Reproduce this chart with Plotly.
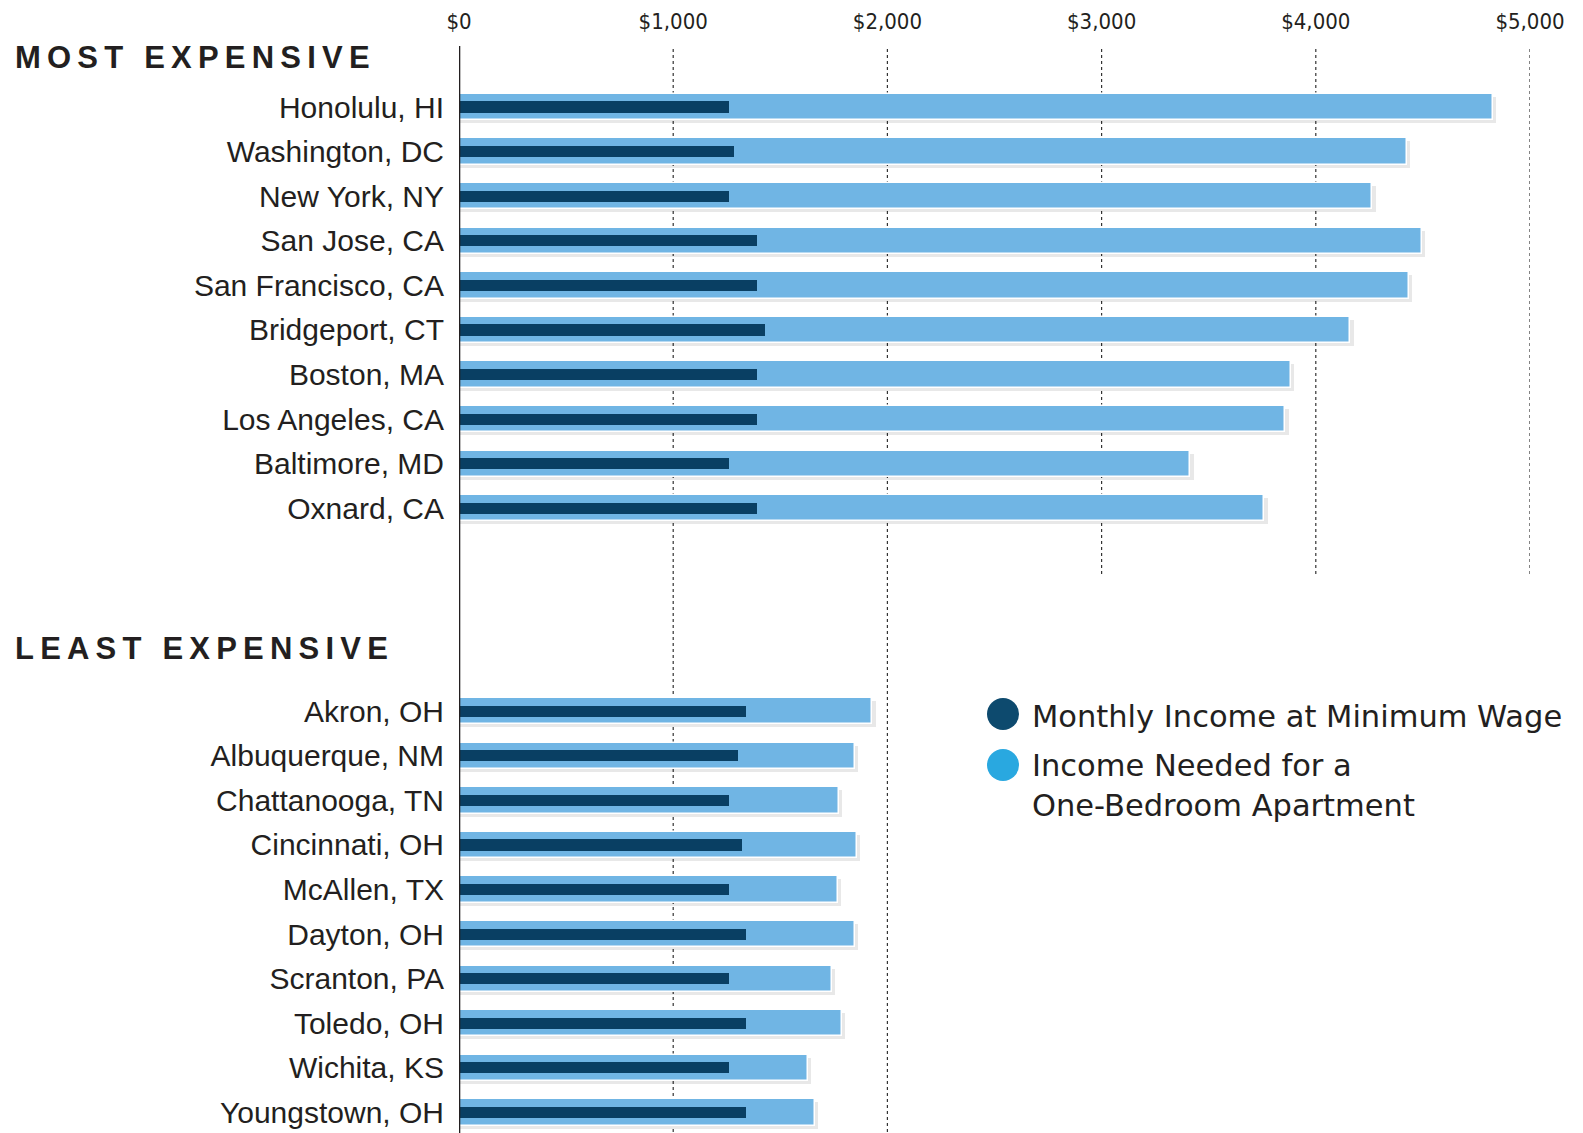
import plotly.graph_objects as go

# ---------------- data ----------------
most_cities = ["Honolulu, HI", "Washington, DC", "New York, NY", "San Jose, CA",
               "San Francisco, CA", "Bridgeport, CT", "Boston, MA", "Los Angeles, CA",
               "Baltimore, MD", "Oxnard, CA"]
most_needed = [4825, 4425, 4264, 4495, 4434, 4160, 3882, 3858, 3415, 3759]
most_minwage = [1259, 1283, 1259, 1392, 1392, 1429, 1392, 1392, 1259, 1392]

least_cities = ["Akron, OH", "Albuquerque, NM", "Chattanooga, TN", "Cincinnati, OH",
                "McAllen, TX", "Dayton, OH", "Scranton, PA", "Toledo, OH",
                "Wichita, KS", "Youngstown, OH"]
least_needed = [1929, 1849, 1774, 1858, 1769, 1849, 1741, 1788, 1627, 1660]
least_minwage = [1340, 1302, 1259, 1321, 1259, 1340, 1259, 1340, 1259, 1340]

x_ticks = [0, 1000, 2000, 3000, 4000, 5000]
x_ticktext = ["$0", "$1,000", "$2,000", "$3,000", "$4,000", "$5,000"]

legend_labels = ["Monthly Income at Minimum Wage",
                 "Income Needed for a<br>One-Bedroom Apartment"]

# ---------------- layout constants ----------------
OFF = 8                          # page body margin
W, H = 1583 - OFF, 1133 - OFF
L, T, B = 459 - OFF, 46 - OFF, 0
R = W - (1530 - OFF)
PW, PH = W - L - R, H - T - B
GAP = 4.55                       # vertical gap (in rows) between the two groups
ROW_PX = 44.59

cities = most_cities + least_cities
needed = most_needed + least_needed
minwage = most_minwage + least_minwage
ypos = list(range(len(most_cities))) + [len(most_cities) - 1 + GAP + i for i in range(len(least_cities))]

y_top = -(107 - 46) / ROW_PX
y_bot = ypos[-1] + (1133 - 1112.5) / ROW_PX

TEXT = "#231F20"
LIGHT = "#70B5E4"
DARK = "#093F63"
SANS = "Liberation Sans, Arial, sans-serif"
WIDE = "DejaVu Sans, Verdana, sans-serif"
COND = "DejaVu Sans Condensed, Liberation Sans Narrow, Arial Narrow, sans-serif"


def px_x(p):
    return (p - OFF - L) / PW


def px_y(p):
    return 1 - (p - OFF - T) / PH


fig = go.Figure()

light_w = 0.59
dark_w = 0.25
sh = 3.0 / ROW_PX
# soft shadow
fig.add_trace(go.Bar(
    y=ypos, x=[v + 16 for v in needed], orientation="h",
    width=light_w, offset=-light_w / 2 + sh,
    marker=dict(color="rgba(0,0,0,0.09)", line=dict(width=0)),
    hoverinfo="skip", showlegend=False))
fig.add_trace(go.Bar(
    y=ypos, x=needed, orientation="h", width=light_w, offset=-light_w / 2,
    marker=dict(color=LIGHT, line=dict(color="white", width=1.5)),
    name="Income Needed for a One-Bedroom Apartment", showlegend=False))
fig.add_trace(go.Bar(
    y=ypos, x=minwage, orientation="h", width=dark_w, offset=-dark_w / 2,
    marker=dict(color=DARK, line=dict(width=0)),
    name="Monthly Income at Minimum Wage", showlegend=False))

shapes = []
grid_end_most = len(most_cities) - 1 + 1.5
for v in x_ticks[1:]:
    y1 = y_bot if v <= 2000 else grid_end_most
    shapes.append(dict(type="line", xref="x", yref="y", x0=v, x1=v,
                       y0=y_top - 9 / ROW_PX, y1=y1,
                       line=dict(color="#333333", width=1.2, dash="dot"), layer="below"))
# zero axis line
shapes.append(dict(type="line", xref="x", yref="y", x0=0, x1=0, y0=y_top, y1=y_bot,
                   line=dict(color=TEXT, width=2.6), layer="above"))

# legend circles
for cy, col in [(714, "#0D4A6E"), (765, "#29A8E0")]:
    r = 16
    shapes.append(dict(type="circle", xref="paper", yref="paper",
                       x0=px_x(1003 - r), x1=px_x(1003 + r),
                       y0=px_y(cy + r), y1=px_y(cy - r),
                       fillcolor=col, line=dict(width=0)))

annotations = []


def spaced(s):
    return "\u2009".join(list(s))


for txt, cy in [("MOST EXPENSIVE", 57.5), ("LEAST EXPENSIVE", 648)]:
    annotations.append(dict(text="<b>" + spaced(txt) + "</b>", xref="paper", yref="paper",
                            x=px_x(13), y=px_y(cy), xanchor="left", yanchor="middle",
                            showarrow=False,
                            font=dict(family=SANS, size=31, color=TEXT)))

annotations.append(dict(text=legend_labels[0], xref="paper", yref="paper",
                        x=px_x(1030), y=px_y(716), xanchor="left", yanchor="middle",
                        showarrow=False,
                        font=dict(family=WIDE, size=30.5, color=TEXT)))
annotations.append(dict(text=legend_labels[1], xref="paper", yref="paper",
                        x=px_x(1030), y=px_y(746), xanchor="left", yanchor="top",
                        align="left", showarrow=False,
                        font=dict(family=WIDE, size=30.5, color=TEXT)))

fig.update_layout(
    width=W, height=H,
    margin=dict(l=L, r=R, t=T, b=B, pad=0),
    paper_bgcolor="white", plot_bgcolor="white",
    barmode="overlay", bargap=0,
    shapes=shapes, annotations=annotations,
    showlegend=False,
    xaxis=dict(range=[0, 5000], side="top", tickvals=x_ticks, ticktext=x_ticktext,
               showgrid=False, zeroline=False, showline=False, ticks="",
               ticklabelstandoff=12,
               tickfont=dict(family=COND, size=22, color=TEXT)),
    yaxis=dict(range=[y_bot, y_top], tickvals=ypos, ticktext=cities,
               showgrid=False, zeroline=False, showline=False, ticks="",
               ticklabelstandoff=14,
               tickfont=dict(family=SANS, size=30, color=TEXT)),
)

fig.write_html("out.html")
